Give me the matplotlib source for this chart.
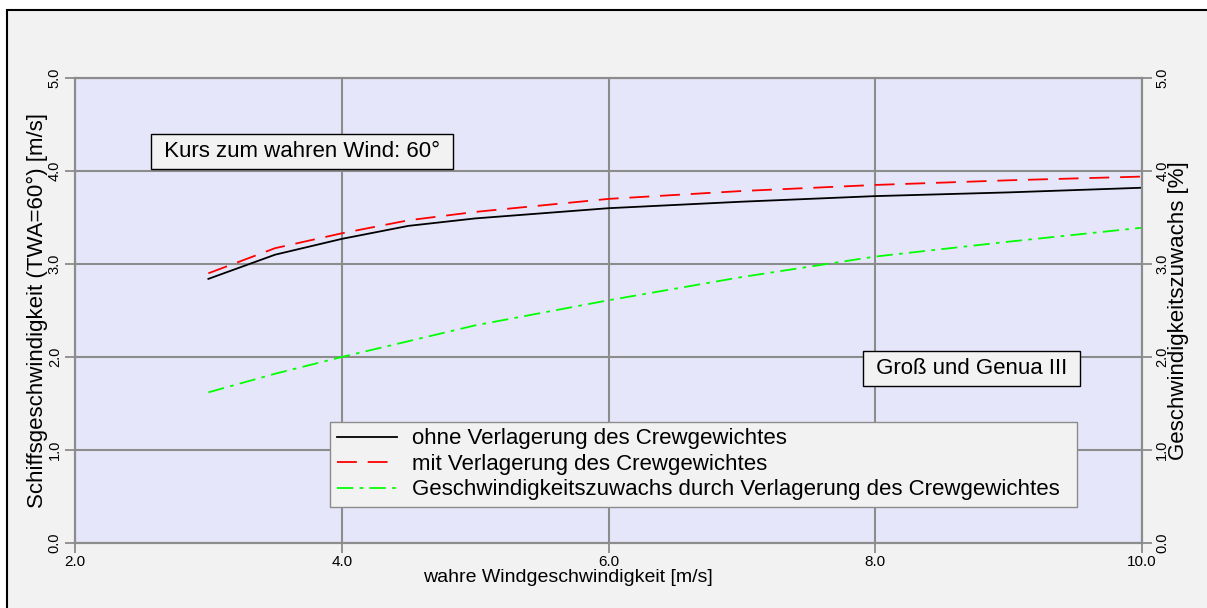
import matplotlib.pyplot as plt
from matplotlib.patches import Rectangle

plt.rcParams['font.family'] = ['Liberation Sans', 'DejaVu Sans']

# wahre Windgeschwindigkeit [m/s]
wind = [3.0, 3.5, 4.0, 4.5, 5.0, 6.0, 7.0, 8.0, 9.0, 10.0]
# Schiffsgeschwindigkeit ohne / mit Verlagerung des Crewgewichtes [m/s]
v_ohne = [2.84, 3.10, 3.27, 3.41, 3.49, 3.60, 3.67, 3.73, 3.77, 3.82]
v_mit = [2.90, 3.17, 3.33, 3.47, 3.56, 3.70, 3.785, 3.85, 3.90, 3.94]
# Geschwindigkeitszuwachs [%]
zuwachs = [1.62, 1.82, 2.00, 2.17, 2.34, 2.61, 2.86, 3.08, 3.24, 3.39]

xticks = [2.0, 4.0, 6.0, 8.0, 10.0]
yticks = [0.0, 1.0, 2.0, 3.0, 4.0, 5.0]

W, H = 1207, 608
fig = plt.figure(figsize=(W / 100, H / 100), dpi=100, facecolor='white')
fig.patches.append(Rectangle((7 / W, -0.01), 1.0, 598 / H + 0.01, transform=fig.transFigure,
                             facecolor='#f2f2f2', edgecolor='black', linewidth=1.5, zorder=-10))

ax = fig.add_axes([75 / W, 65 / H, 1067 / W, 465 / H])
ax.set_facecolor('#e6e6fa')
grid_c = '#8c8c8c'

ax.plot(wind, v_ohne, color='black', lw=1.3, label='ohne Verlagerung des Crewgewichtes')
ax.plot(wind, v_mit, color='#ff0000', lw=1.3, dashes=(11, 6), label='mit Verlagerung des Crewgewichtes')

ax2 = ax.twinx()
ax2.plot(wind, zuwachs, color='#00ff00', lw=1.3, dashes=(9, 3.5, 2, 3.5),
         label='Geschwindigkeitszuwachs durch Verlagerung des Crewgewichtes')

for a in (ax, ax2):
    a.set_xlim(2, 10)
    a.set_ylim(0, 5)
    a.set_yticks(yticks)
    a.set_yticklabels(['%.1f' % t for t in yticks], rotation=90, va='center', fontsize=10.5)
    for s in a.spines.values():
        s.set_color(grid_c)
        s.set_linewidth(1.5)
    a.tick_params(colors=grid_c, labelcolor='black', length=7, width=1.3, pad=2.5)

ax.set_xticks(xticks)
ax.set_xticklabels(['%.1f' % t for t in xticks], fontsize=11)
ax.tick_params(axis='x', pad=2)
ax.grid(True, color=grid_c, lw=1.5)
ax.set_axisbelow(True)

ax.set_xlabel('wahre Windgeschwindigkeit [m/s]', fontsize=14)
ax.set_ylabel('Schiffsgeschwindigkeit (TWA=60°) [m/s]', fontsize=16)
ax2.set_ylabel('Geschwindigkeitszuwachs [%]', fontsize=16)
ax.xaxis.set_label_coords(0.462, -0.056)
ax.yaxis.set_label_coords(-0.025, 0.5)
ax2.yaxis.set_label_coords(1.0245, 0.5)

box = dict(boxstyle='square,pad=0.3', facecolor='#f2f2f2', edgecolor='black', linewidth=1)
ax.text(2.622, 4.21, ' Kurs zum wahren Wind: 60° ', fontsize=16, va='center', ha='left', bbox=box)
ax.text(7.957, 1.876, ' Groß und Genua III ', fontsize=16, va='center', ha='left', bbox=box, zorder=5)

h1, l1 = ax.get_legend_handles_labels()
h2, l2 = ax2.get_legend_handles_labels()
leg = ax2.legend(h1 + h2, l1 + l2, loc='lower left',
                 bbox_to_anchor=(330 / W, (H - 507) / H, 747 / W, 83 / H),
                 bbox_transform=fig.transFigure, mode='expand', fontsize=16,
                 frameon=True, fancybox=False, handlelength=2.7, handletextpad=0.7,
                 labelspacing=0.2, borderpad=0.3, borderaxespad=0)
leg.get_frame().set_facecolor('#f2f2f2')
leg.get_frame().set_edgecolor(grid_c)
leg.get_frame().set_alpha(1)

fig.savefig('out.png', dpi=100)
